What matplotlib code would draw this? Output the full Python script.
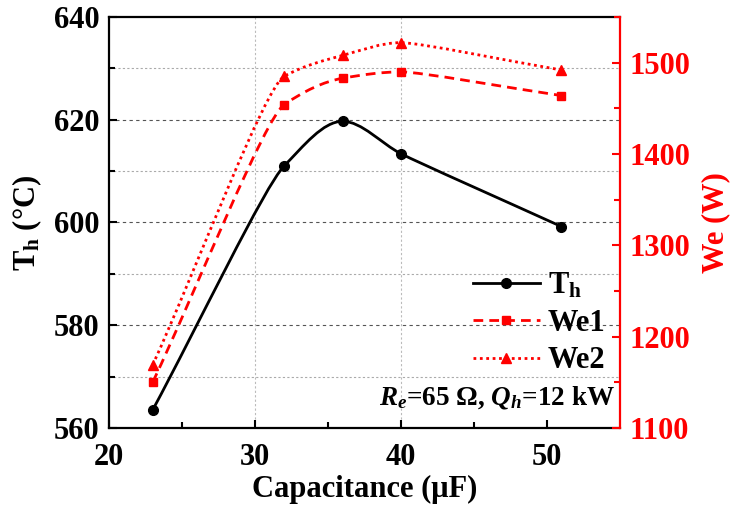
import matplotlib
matplotlib.use('Agg')
import matplotlib.pyplot as plt
from matplotlib.path import Path
from matplotlib.patches import PathPatch
from matplotlib.lines import Line2D
import numpy as np

# capacitance sweep (uF)
cap = [23, 32, 36, 40, 51]
# hot-end temperature (degC)
Th = [563.5, 611.0, 619.7, 613.4, 599.2]
# electric power (W)
We1 = [1150, 1454, 1483, 1490, 1464]
We2 = [1169, 1485, 1508, 1522, 1492]

plt.rcParams['font.family'] = 'Liberation Serif'
plt.rcParams['font.weight'] = 'bold'
plt.rcParams['mathtext.fontset'] = 'custom'
plt.rcParams['mathtext.rm'] = 'Liberation Serif:bold'
plt.rcParams['mathtext.it'] = 'Liberation Serif:italic:bold'
plt.rcParams['mathtext.bf'] = 'Liberation Serif:bold'

RED = '#ff0000'
FS = 22


def smooth_path(x, y):
    # monotone cubic through the points; handles kept short next to short segments
    x = np.asarray(x, float)
    y = np.asarray(y, float)
    n = len(x)
    h = np.diff(x)
    d = np.diff(y) / h
    m = np.zeros(n)
    m[0] = d[0]
    m[-1] = d[-1]
    for k in range(1, n - 1):
        if d[k - 1] * d[k] <= 0:
            m[k] = 0.0
        else:
            w1 = 2 * h[k] + h[k - 1]
            w2 = h[k] + 2 * h[k - 1]
            m[k] = (w1 + w2) / (w1 / d[k - 1] + w2 / d[k])
    hl = np.zeros(n)
    hl[0] = h[0] / 3
    hl[-1] = h[-1] / 3
    for k in range(1, n - 1):
        hl[k] = min(h[k - 1], h[k]) / 3
    verts = [(x[0], y[0])]
    codes = [Path.MOVETO]
    for i in range(n - 1):
        a = hl[i]
        b = hl[i + 1]
        verts += [(x[i] + a, y[i] + m[i] * a),
                  (x[i + 1] - b, y[i + 1] - m[i + 1] * b),
                  (x[i + 1], y[i + 1])]
        codes += [Path.CURVE4] * 3
    return Path(verts, codes)


fig = plt.figure(figsize=(7.31, 5.18), dpi=100)
ax = fig.add_axes([0.149, 0.174, 0.699, 0.793])
ax2 = ax.twinx()

# left axis: Th
ax.add_patch(PathPatch(smooth_path(cap, Th), fill=False, edgecolor='black', lw=2.0, zorder=3))
ax.plot(cap, Th, 'o', color='black', ms=7, zorder=4)
ax.set_xlim(20, 55)
ax.set_ylim(560, 640)
ax.set_xticks([20, 30, 40, 50])
ax.set_xticks([25, 35, 45], minor=True)
ax.set_yticks([560, 580, 600, 620, 640])
ax.set_yticks([570, 590, 610, 630], minor=True)

for v in [580, 600, 620]:
    ax.axhline(v, color='#555555', lw=0.8, ls=(0, (3, 3)), zorder=1)
for v in [570, 590, 610, 630]:
    ax.axhline(v, color='#aaaaaa', lw=0.8, ls=(0, (2, 2)), zorder=1)
for v in [30, 40]:
    ax.axvline(v, color='#bbbbbb', lw=0.8, ls=(0, (2, 2)), zorder=1)

# right axis: We
ax2.add_patch(PathPatch(smooth_path(cap, We1), fill=False, edgecolor=RED, lw=2.0,
                        ls=(0, (3.5, 2.2)), zorder=3))
ax2.plot(cap, We1, 's', color=RED, ms=6, zorder=4)
ax2.add_patch(PathPatch(smooth_path(cap, We2), fill=False, edgecolor=RED, lw=2.0,
                        ls=(0, (1, 1.3)), zorder=3))
ax2.plot(cap, We2, '^', color=RED, ms=7.5, zorder=4)
ax2.set_ylim(1100, 1550)
ax2.set_yticks([1100, 1200, 1300, 1400, 1500])
ax2.set_yticks([1150, 1250, 1350, 1450, 1550], minor=True)

for s in ['left', 'top', 'bottom']:
    ax.spines[s].set_linewidth(1.6)
    ax2.spines[s].set_visible(False)
ax.spines['right'].set_visible(False)
ax2.spines['right'].set_color(RED)
ax2.spines['right'].set_linewidth(1.6)

ax.tick_params(which='both', direction='in', width=1.5, labelsize=FS, colors='black')
ax.tick_params(which='major', length=6)
ax.tick_params(which='minor', length=4)
ax.tick_params(axis='x', which='major', pad=11)
ax.tick_params(axis='y', which='major', pad=7)
ax.tick_params(axis='y', right=False)
ax2.tick_params(which='both', direction='in', width=1.5, labelsize=FS, colors=RED)
ax2.tick_params(which='major', length=6, pad=7)
ax2.tick_params(which='minor', length=4)

ax.set_xlabel('Capacitance (\u03bcF)', fontsize=FS, fontweight='bold', labelpad=2)
ax.set_ylabel('T$_\\mathrm{h}$ (\u00b0C)', fontsize=FS, fontweight='bold', labelpad=7)
ax2.set_ylabel('We (W)', fontsize=FS, fontweight='bold', color=RED, labelpad=8)

handles = [
    Line2D([], [], color='black', lw=2.0, marker='o', ms=7),
    Line2D([], [], color=RED, lw=2.0, ls=(0, (3.5, 2.2)), marker='s', ms=6),
    Line2D([], [], color=RED, lw=2.0, ls=(0, (1, 1.3)), marker='^', ms=7.5),
]
labels = ['T$_\\mathrm{h}$', 'We1', 'We2']
ax2.legend(handles, labels, loc='center left', bbox_to_anchor=(0.712, 0.255),
           frameon=False, fontsize=FS, handlelength=2.2, handletextpad=0.25,
           labelspacing=0.28, borderpad=0, borderaxespad=0)

ax2.text(0.99, 0.075, '$R_e$=65 \u03a9, $Q_h$=12 kW', transform=ax2.transAxes,
         ha='right', va='center', fontsize=19.5, fontweight='bold')

fig.savefig('out.png', dpi=100)
